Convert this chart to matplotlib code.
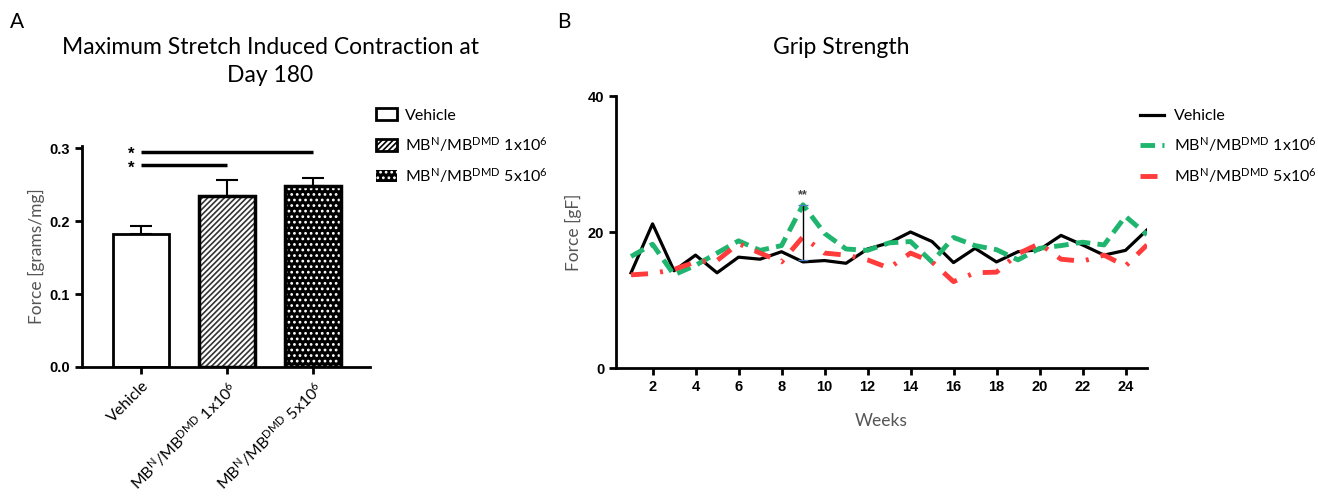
import numpy as np
import matplotlib.pyplot as plt
from matplotlib.patches import Patch

plt.rcParams['font.family'] = ['Lato', 'DejaVu Sans']
plt.rcParams['mathtext.default'] = 'regular'

# panel A data
groups = ['Vehicle', 'MB$^{N}$/MB$^{DMD}$ 1x10$^{6}$', 'MB$^{N}$/MB$^{DMD}$ 5x10$^{6}$']
force = [0.183, 0.235, 0.248]
sem = [0.010, 0.021, 0.011]
sig_pairs = [(0, 2, 0.295), (0, 1, 0.277)]

# panel B data
weeks = np.arange(1, 26)
vehicle = [14.0, 21.2, 14.3, 16.6, 14.0, 16.3, 16.0, 17.1, 15.6, 15.8, 15.4, 17.5, 18.4,
           20.0, 18.6, 15.5, 17.6, 15.6, 17.1, 17.4, 19.5, 18.1, 16.6, 17.3, 20.3]
mb_1e6 = [16.4, 18.2, 13.7, 15.1, 16.9, 18.7, 17.3, 18.0, 24.0, 19.8, 17.5, 17.3, 18.4,
          18.6, 15.6, 19.2, 18.0, 17.4, 15.9, 17.6, 18.0, 18.5, 18.1, 22.3, 19.6]
mb_5e6 = [13.7, 13.9, 14.5, 15.6, 15.8, 18.3, 16.9, 15.6, 19.3, 16.9, 16.6, 15.9, 14.7,
          16.9, 15.6, 12.7, 14.0, 14.1, 16.8, 18.3, 16.0, 15.7, 16.6, 15.0, 18.1]
sig_week = 9

W, H = 1318, 503
fig = plt.figure(figsize=(W / 100, H / 100), dpi=100)

def px_axes(l, t, r, b):
    return fig.add_axes([l / W, 1 - b / H, (r - l) / W, (b - t) / H])

def px_text(x, y, s, **kw):
    return fig.text(x / W, 1 - y / H, s, **kw)

tick_font = dict(family='Liberation Sans', weight='bold', size=10.5)
label_kw = dict(fontsize=12.5, color='#555555')

# ---------------- panel A ----------------
axA = px_axes(82, 146, 370, 367)
x = np.arange(3)
bw = 0.65
plt.rcParams['hatch.linewidth'] = 1.2
axA.bar(x[0], force[0], bw, color='white', edgecolor='black', lw=2, zorder=2)
axA.bar(x[1], force[1], bw, color='white', edgecolor='#333333', hatch='//////', lw=0, zorder=2)
axA.bar(x[2], force[2], bw, color='black', edgecolor='white', hatch='...', lw=0, zorder=2)
axA.bar(x[1:], force[1:], bw, fill=False, edgecolor='black', lw=2.5, zorder=3)
for i in range(3):
    axA.errorbar(x[i], force[i], yerr=[[0], [sem[i]]], color='black', capsize=8,
                 elinewidth=1.5, capthick=1.5, zorder=1)
for a, b, y in sig_pairs:
    axA.plot([x[a], x[b]], [y, y], color='black', lw=2.5, solid_capstyle='butt')
    axA.text(x[a] - 0.08, y - 0.004, '*', ha='right', va='center', fontsize=12,
             family='Liberation Sans', weight='bold')
axA.set_xlim(-0.69, 2.66)
axA.set_ylim(0, 0.303)
axA.set_yticks([0.0, 0.1, 0.2, 0.3])
axA.set_yticklabels(['0.0', '0.1', '0.2', '0.3'], fontdict=tick_font)
axA.set_xticks(x)
axA.set_xticklabels(groups, rotation=45, ha='right', rotation_mode='anchor', fontsize=11.5)
for s in ['top', 'right']:
    axA.spines[s].set_visible(False)
for s in ['left', 'bottom']:
    axA.spines[s].set_linewidth(2)
axA.tick_params(width=2, length=5)
axA.set_ylabel('Force [grams/mg]', labelpad=3, **label_kw)
px_text(270, 47, 'Maximum Stretch Induced Contraction at', fontsize=16.5, ha='center', va='center')
px_text(270, 75, 'Day 180', fontsize=16.5, ha='center', va='center')
handlesA = [Patch(facecolor='white', edgecolor='black', lw=2),
            Patch(facecolor='white', edgecolor='black', hatch='//////', lw=2),
            Patch(facecolor='black', edgecolor='white', hatch='...', lw=0)]
axA.legend(handlesA, groups, loc='upper left', bbox_to_anchor=(1.0, 1.2), frameon=False,
           fontsize=11.5, handlelength=1.3, handleheight=0.8, labelspacing=0.75,
           handletextpad=0.5, borderaxespad=0)
px_text(10, 22, 'A', fontsize=15, va='center')

# ---------------- panel B ----------------
axB = px_axes(616, 96, 1147, 368)
axB.plot(weeks, vehicle, color='black', lw=2.3, label='Vehicle')
axB.plot(weeks, mb_1e6, color='#1fb56e', lw=3.5, ls=(0, (3, 1.5)),
         label='MB$^{N}$/MB$^{DMD}$ 1x10$^{6}$')
axB.plot(weeks, mb_5e6, color='#ff3b3b', lw=3.5, ls=(0, (3.5, 2.5, 0.6, 2.5)),
         label='MB$^{N}$/MB$^{DMD}$ 5x10$^{6}$')
i9 = sig_week - 1
axB.vlines(sig_week, vehicle[i9] + 0.3, mb_1e6[i9], color='black', lw=1)
axB.hlines([vehicle[i9] + 0.3, mb_1e6[i9]], sig_week - 0.25, sig_week + 0.25,
           color='#4a7fc1', lw=1)
axB.text(sig_week, mb_1e6[i9] + 0.5, '**', ha='center', va='bottom', fontsize=9, color='#444444',
         family='Liberation Sans', weight='bold')
axB.set_xlim(0.3, 25)
axB.set_ylim(0, 40)
axB.set_yticks([0, 20, 40])
axB.set_yticklabels(['0', '20', '40'], fontdict=tick_font)
axB.set_xticks(np.arange(2, 25, 2))
axB.set_xticklabels([str(v) for v in range(2, 25, 2)], fontdict=tick_font)
for s in ['top', 'right']:
    axB.spines[s].set_visible(False)
for s in ['left', 'bottom']:
    axB.spines[s].set_linewidth(2)
axB.tick_params(width=2, length=5)
axB.set_xlabel('Weeks', labelpad=14, **label_kw)
axB.set_ylabel('Force [gF]', labelpad=4, **label_kw)
px_text(841, 47, 'Grip Strength', fontsize=16.5, ha='center', va='center')
axB.legend(loc='upper left', bbox_to_anchor=(0.975, 0.975), frameon=False, fontsize=11.5,
           handlelength=1.5, labelspacing=0.75, handletextpad=0.6, borderaxespad=0)
px_text(557, 22, 'B', fontsize=15, va='center')

fig.savefig('out.png', dpi=100)
